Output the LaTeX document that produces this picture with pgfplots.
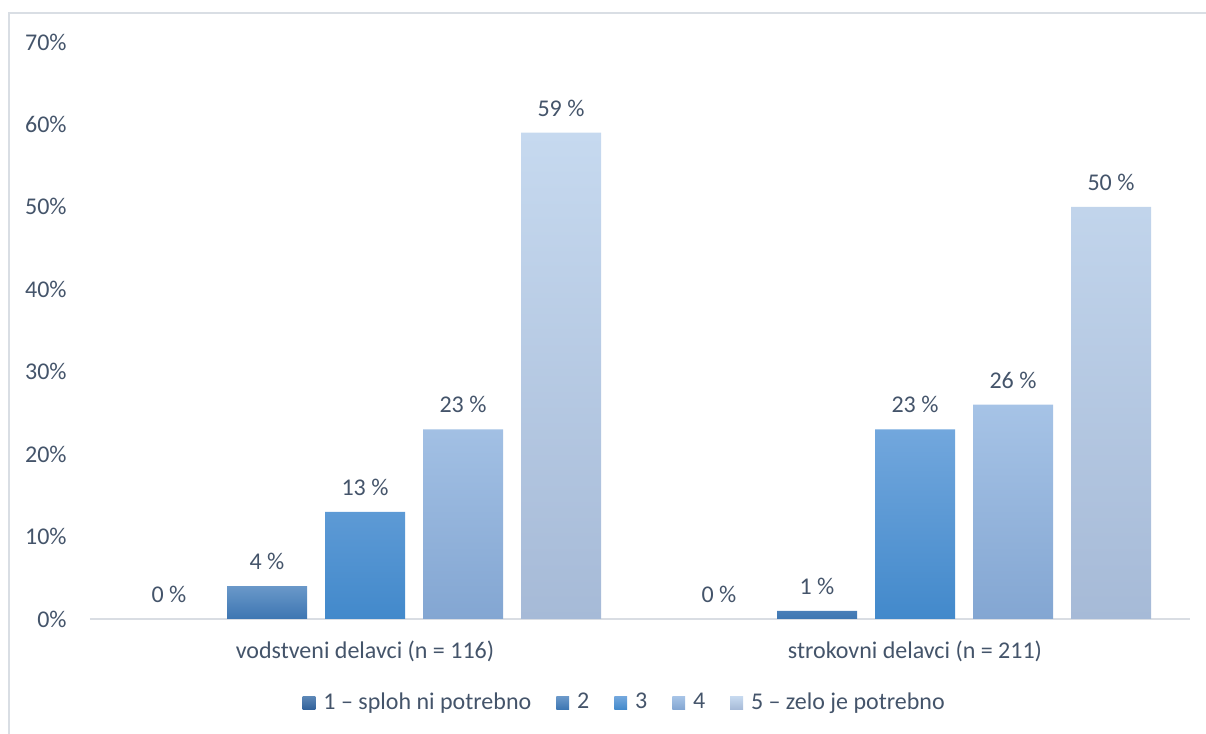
\documentclass[border=0pt]{standalone}
\usepackage{fontspec}
\setmainfont{Carlito}
\usepackage{pgfplots}
\pgfplotsset{compat=1.18}
\definecolor{txt}{HTML}{44546A}
\definecolor{frame}{HTML}{D9DEE4}
\definecolor{axline}{HTML}{D9DDE3}
\definecolor{aT}{HTML}{5B86B6}\definecolor{aB}{HTML}{31619A}
\definecolor{bT}{HTML}{6A98C9}\definecolor{bB}{HTML}{3D76B2}
\definecolor{cT}{HTML}{72A7DD}\definecolor{cB}{HTML}{4289CB}
\definecolor{dT}{HTML}{A6C3E6}\definecolor{dB}{HTML}{83A6D2}
\definecolor{eT}{HTML}{C6D9EF}\definecolor{eB}{HTML}{A6BAD7}
\begin{document}
\fontsize{12}{14}\selectfont
\begin{tikzpicture}
\path[use as bounding box] (0,0) rectangle (603pt,367pt);
\draw[frame, line width=1pt] (4.25pt,0) -- (4.25pt,360.5pt) -- (603pt,360.5pt);
\begin{axis}[
  at={(45pt,57.5pt)}, anchor=south west,
  scale only axis, width=550pt, height=288.5pt,
  ybar=9pt, bar width=40pt,
  xmin=-0.5, xmax=1.5, ymin=0, ymax=70,
  xtick={0,1}, xticklabels={vodstveni delavci (n = 116), strokovni delavci (n = 211)},
  ytick={0,10,...,70},
  yticklabel={\pgfmathprintnumber{\tick}\%},
  /pgf/number format/assume math mode=true,
  major tick length=0pt,
  axis x line=bottom, axis y line=left,
  x axis line style={-, draw=axline, line width=1pt},
  y axis line style={draw=none},
  tick label style={text=txt},
  yticklabel style={xshift=-7.5pt},
  xticklabel style={yshift=-7pt},
  nodes near coords={\pgfmathprintnumber{\pgfplotspointmeta}~\%},
  every node near coord/.append style={text=txt, yshift=4pt},
  legend columns=5,
  legend style={draw=none, fill=none, at={(0.487,-0.1456)}, anchor=center,
    text=txt, /tikz/every even column/.append style={column sep=10.5pt},
    /tikz/every odd column/.append style={column sep=2pt},
    nodes={inner xsep=2pt}},
  legend image code/.code={\path[#1, draw=none] (0pt,-3.2pt) rectangle (6.4pt,3.2pt);},
  clip=false,
]
\addplot[draw=none, top color=aT, bottom color=aB] coordinates {(0,0) (1,0)};
\addplot[draw=none, top color=bT, bottom color=bB] coordinates {(0,4) (1,1)};
\addplot[draw=none, top color=cT, bottom color=cB] coordinates {(0,13) (1,23)};
\addplot[draw=none, top color=dT, bottom color=dB] coordinates {(0,23) (1,26)};
\addplot[draw=none, top color=eT, bottom color=eB] coordinates {(0,59) (1,50)};
\legend{1 -- sploh ni potrebno, 2, 3, 4, 5 -- zelo je potrebno}
\end{axis}
\end{tikzpicture}
\end{document}
